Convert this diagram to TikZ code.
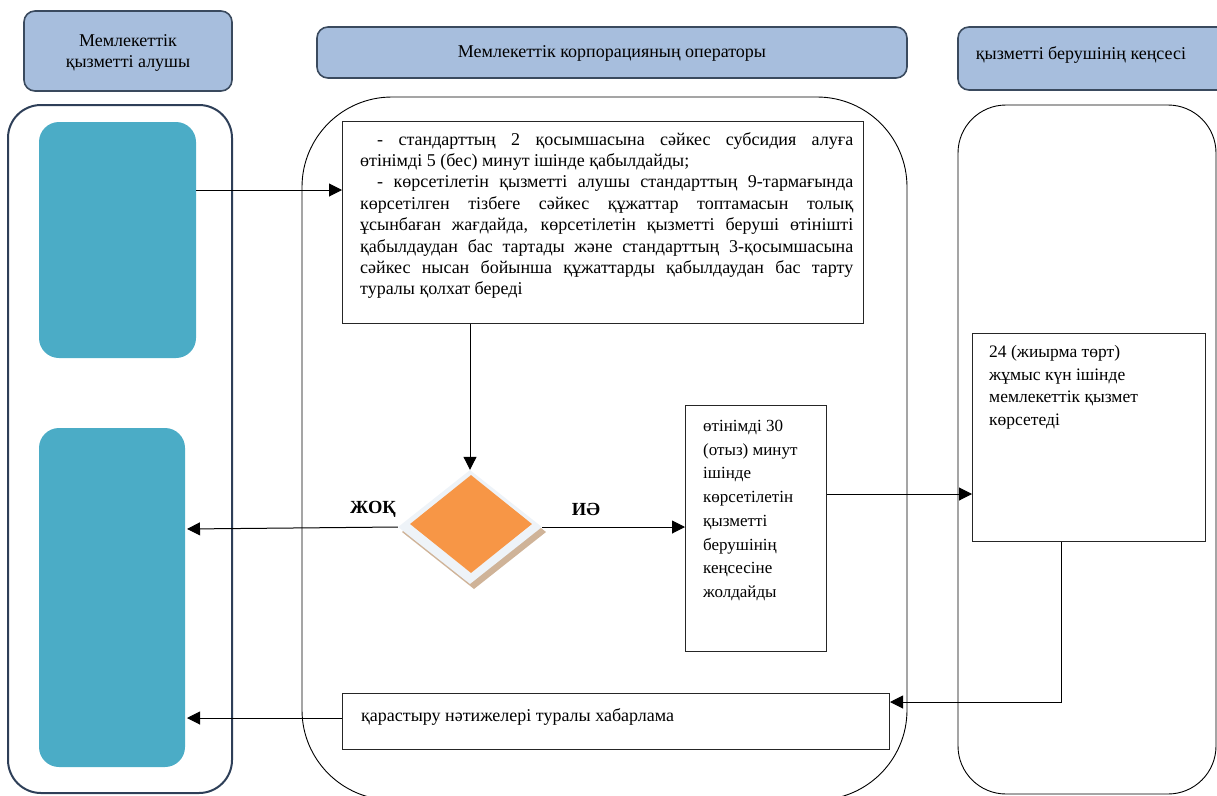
\documentclass[tikz,border=0pt]{standalone}
\usepackage{fontspec}
\setmainfont{Liberation Serif}
\usetikzlibrary{arrows.meta,shapes.geometric}

\definecolor{hdrfill}{HTML}{A7BEDD}
\definecolor{hdrline}{HTML}{3A4A5E}
\definecolor{lanenavy}{HTML}{2E3F58}
\definecolor{tealfill}{HTML}{4BACC6}
\definecolor{decfill}{HTML}{F79646}
\definecolor{decedge}{HTML}{EEF3F8}
\definecolor{decshadow}{HTML}{CFB398}

\tikzset{
  header/.style={draw=hdrline, fill=hdrfill, line width=1.6pt, rounded corners=11pt},
  lane/.style={draw=black, line width=0.9pt},
  tealbox/.style={fill=tealfill, rounded corners=20pt},
  stepbox/.style={draw=black!85, line width=1pt, fill=white},
  flow/.style={line width=1pt, -{Triangle[length=13pt,width=13pt]}},
  boxtext/.style={inner sep=0pt, anchor=north west, align=left},
  hfont/.style={font=\fontsize{18}{21}\selectfont},
}

\begin{document}
\begin{tikzpicture}[x=1pt, y=-1pt]
\useasboundingbox (0,0) rectangle (1217,795);
\clip (0,0) rectangle (1217,795);

% column headers
\filldraw[header] (24,11) rectangle (232,91);
\node[hfont, align=center] (h1) at (128,53) {Мемлекеттік\\қызметті алушы};
\filldraw[header] (317,27) rectangle (907,78);
\node[hfont] (h2) at (612,53) {Мемлекеттік корпорацияның операторы};
\filldraw[header] (958,27) rectangle (1230,90);
\node[hfont] (h3) at (1081,55) {қызметті берушінің кеңсесі};

% swimlanes
\draw[draw=lanenavy, line width=2pt, rounded corners=33pt] (8,105) rectangle (232,793);
\draw[lane, rounded corners=90pt] (302,97) rectangle (907,800);
\draw[lane, rounded corners=48pt] (958,105) rectangle (1216,794);

% applicant side
\path[tealbox] (39,122) rectangle (196,358);
\path[tealbox] (39,428) rectangle (185,767);
\coordinate (tA) at (196,190);
\coordinate (tB1) at (187,529);
\coordinate (tB2) at (187,718);

% acceptance step
\node[stepbox, anchor=north west, minimum width=521pt, minimum height=202pt] (rules) at (342,121) {};
\node[boxtext, text width=493pt, align=justify, font=\fontsize{18}{21.4}\selectfont] (rulestext) at (360,132)
{\hspace*{17pt}- стандарттың 2 қосымшасына сәйкес субсидия алуға\linebreak
өтінімді 5 (бес) минут ішінде қабылдайды;\par
\hspace*{17pt}- көрсетілетін қызметті алушы стандарттың 9-тармағында\linebreak
көрсетілген тізбеге сәйкес құжаттар топтамасын толық\linebreak
ұсынбаған жағдайда, көрсетілетін қызметті беруші өтінішті\linebreak
қабылдаудан бас тартады және стандарттың 3-қосымшасына\linebreak
сәйкес нысан бойынша құжаттарды қабылдаудан бас тарту\linebreak
туралы қолхат береді\par};

% decision
\path[fill=decshadow] (474,475) -- (546,532) -- (474,589) -- (402,532) -- cycle;
\node[diamond, fill=decedge, minimum width=144pt, minimum height=114pt, inner sep=0pt] (dec) at (470,527) {};
\node[diamond, fill=decfill, minimum width=122pt, minimum height=98pt, inner sep=0pt] (decin) at (471,524) {};
\node[font=\bfseries\fontsize{18.5}{20}\selectfont] (no) at (373,509) {ЖОҚ};
\node[font=\bfseries\fontsize{18.5}{20}\selectfont] (yes) at (586,509) {ИӘ};

% forwarding step
\node[stepbox, anchor=north west, minimum width=141pt, minimum height=246pt] (fwd) at (685,405) {};
\node[boxtext, font=\fontsize{17}{23.7}\selectfont] (fwdtext) at (703,420)
{өтінімді 30\\(отыз) минут\\ішінде\\көрсетілетін\\қызметті\\берушінің\\кеңсесіне\\жолдайды};

% service provider step
\node[stepbox, anchor=north west, minimum width=233pt, minimum height=208pt] (serve) at (972,333) {};
\node[boxtext, font=\fontsize{17.5}{22.7}\selectfont] (servetext) at (989,345)
{24 (жиырма төрт)\\жұмыс күн ішінде\\мемлекеттік қызмет\\көрсетеді};

% result notice
\node[stepbox, anchor=north west, minimum width=547pt, minimum height=56pt] (notice) at (342,693) {};
\node[boxtext, font=\fontsize{18}{20}\selectfont] (noticetext) at (361,708) {қарастыру нәтижелері туралы хабарлама};

% connectors
\draw[flow] (tA) -- (tA -| rules.west);
\draw[flow] (dec.north |- rules.south) -- (dec.north);
\draw[flow] (dec.west) -- (tB1);
\draw[flow] (dec.east) -- (fwd.west |- dec.east);
\draw[flow] (fwd.east |- 0,494) -- (serve.west |- 0,494);
\draw[flow] (serve.south -| 1061,0) |- (notice.east |- 0,702);
\draw[flow] (notice.west |- tB2) -- (tB2);
\end{tikzpicture}
\end{document}
